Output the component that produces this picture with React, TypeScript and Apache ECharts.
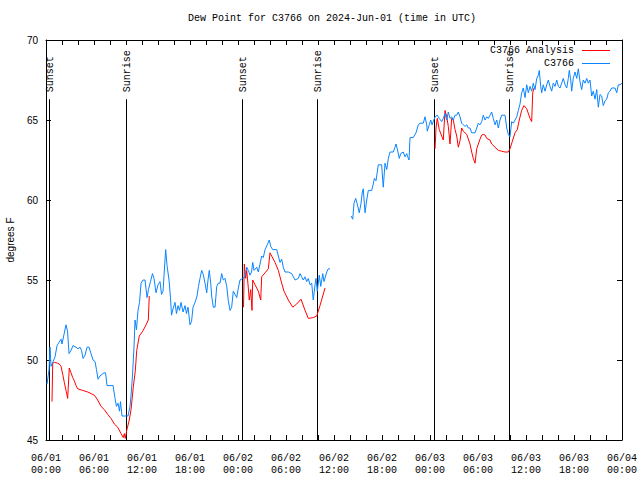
import React, { useEffect, useRef } from "react";
import * as echarts from "echarts";

const chartTitle = "Dew Point for C3766 on 2024-Jun-01 (time in UTC)";
const yAxisTitle = "degrees F";
const analysisName = "C3766 Analysis";
const obsName = "C3766";

const xTickLabels = [
  "06/01\n00:00", "06/01\n06:00", "06/01\n12:00", "06/01\n18:00",
  "06/02\n00:00", "06/02\n06:00", "06/02\n12:00", "06/02\n18:00",
  "06/03\n00:00", "06/03\n06:00", "06/03\n12:00", "06/03\n18:00",
  "06/04\n00:00",
];

// hours since 2024-06-01 00:00 UTC
const obsHours = [
  0.13, 0.38, 0.5, 0.63, 0.88, 1.13, 1.38, 1.63, 1.88, 2.0, 2.25, 2.5, 2.69, 2.88, 3.13, 3.38, 3.75, 4.0, 4.25, 4.44,
  4.63, 4.88, 5.13, 5.38, 5.63, 5.88, 6.13, 6.31, 6.5, 6.75, 7.0, 7.25, 7.44, 7.63, 8.0, 8.38, 8.63, 8.81, 9.0, 9.19,
  9.31, 9.5, 9.88, 10.25, 10.5, 10.63, 10.81, 11.0, 11.13, 11.31, 11.5, 11.69, 11.88, 12.13, 12.38, 12.63, 12.81, 13.06, 13.31, 13.5,
  13.75, 14.0, 14.25, 14.44, 14.63, 14.88, 14.96, 15.13, 15.38, 15.56, 15.69, 15.88, 16.13, 16.31, 16.5, 16.69, 16.88, 17.13, 17.38, 17.56,
  17.75, 18.0, 18.19, 18.38, 18.63, 18.88, 19.06, 19.25, 19.46, 19.63, 19.88, 20.09, 20.25, 20.41, 20.59, 20.71, 20.91, 21.13, 21.34, 21.54,
  21.75, 21.96, 22.16, 22.38, 22.59, 22.79, 23.0, 23.21, 23.41, 23.63, 23.84, 24.04, 24.25, 24.56, 24.88, 25.09, 25.29, 25.5, 25.69, 25.84,
  26.0, 26.34, 26.54, 26.75, 26.96, 27.16, 27.38, 27.66, 27.91, 28.09, 28.34, 28.84, 29.04, 29.25, 29.46, 29.66, 29.88, 30.29, 30.71, 31.13,
  31.54, 31.75, 31.96, 32.16, 32.38, 32.59, 32.79, 33.0, 33.21, 33.41, 33.63, 33.75, 33.91, 34.16, 34.34, 34.59, 34.75, 35.09, 35.29, 35.5,
  36.8,
  38.13, 38.34, 38.5, 38.71, 38.88, 39.16, 39.38, 39.54, 39.66, 39.88, 40.09, 40.29, 40.71, 40.91, 41.04, 41.25, 41.54, 41.96, 42.09, 42.16,
  42.38, 42.59, 42.79, 43.0, 43.41, 43.63, 43.75, 43.91, 44.16, 44.34, 44.66, 44.88, 45.09, 45.21, 45.38, 45.5, 45.91, 46.25, 46.54, 46.75,
  47.16, 47.38, 47.59, 47.66, 47.91, 48.09, 48.25, 48.41, 48.63, 48.91, 49.16, 49.46, 49.66, 49.88, 50.09, 50.29, 50.5, 50.71, 50.91, 51.13,
  51.34, 51.54, 51.75, 51.96, 52.16, 52.38, 52.59, 52.79, 53.0, 53.21, 53.63, 53.84, 54.04, 54.25, 54.46, 54.66, 54.88, 55.09, 55.29, 55.5,
  55.71, 55.91, 56.13, 56.34, 56.54, 56.75, 56.96, 57.38, 57.59, 57.79, 58.0, 58.21, 58.41, 58.63, 58.84, 59.04, 59.25, 59.46, 59.66, 59.88,
  60.09, 60.29, 60.5, 60.71, 60.91, 61.13, 61.34, 61.54, 61.66, 61.84, 61.96, 62.16, 62.38, 62.59, 62.79, 63.0, 63.21, 63.41, 63.63, 63.84,
  64.04, 64.25, 64.46, 64.66, 64.88, 65.09, 65.29, 65.41, 65.59, 65.71, 65.91, 66.13, 66.34, 66.54, 66.75, 66.96, 67.16, 67.38, 67.59, 67.79,
  68.0, 68.21, 68.41, 68.63, 68.84, 69.04, 69.25, 69.46, 69.66, 69.88, 70.09, 70.29, 70.5, 70.71, 71.13, 71.34, 71.54, 71.75, 72.0,
];
const obsValues = [
  48.5, 49.4, 50.8, 49.6, 49.9, 50.2, 50.9, 51.1, 51.3, 51.0, 51.6, 52.2, 51.8, 50.4, 50.6, 50.9, 50.8, 50.7, 50.8, 50.6,
  50.1, 50.3, 50.8, 50.8, 50.4, 50.0, 49.9, 49.4, 48.8, 49.0, 49.1, 49.2, 49.2, 48.4, 48.4, 48.4, 47.6, 47.1, 47.3, 46.8,
  47.4, 46.5, 46.5, 46.5, 47.1, 47.8, 49.0, 50.8, 52.5, 51.9, 53.1, 53.6, 54.8, 55.0, 55.0, 53.9, 54.4, 54.9, 55.4, 55.1,
  54.2, 54.7, 54.9, 54.1, 54.3, 56.3, 56.9, 55.9, 55.0, 53.9, 52.8, 53.2, 53.6, 52.9, 53.4, 53.1, 53.6, 53.0, 53.4, 52.9,
  53.3, 52.2, 52.4, 53.3, 53.6, 54.0, 54.6, 55.1, 55.6, 55.4, 54.8, 54.2, 55.0, 55.6, 54.8, 54.0, 53.3, 53.3, 54.6, 54.8,
  54.8, 55.4, 55.0, 55.1, 54.6, 53.7, 53.1, 53.3, 54.3, 54.1, 53.9, 54.5, 55.0, 55.1, 55.2, 55.8, 55.6, 55.3, 55.5, 56.1,
  55.6, 55.8, 55.5, 56.0, 56.5, 56.4, 56.9, 57.2, 57.5, 57.1, 56.9, 56.9, 56.5, 56.1, 56.3, 55.8, 55.5, 55.5, 55.4, 55.0,
  55.1, 55.4, 55.2, 55.0, 55.2, 54.9, 55.1, 54.7, 54.8, 53.75, 54.7, 55.1, 54.3, 55.3, 54.6, 55.4, 54.9, 55.5, 55.7, 55.7,
  null,
  59.0, 58.8, 59.8, 60.1, 59.8, 59.2, 59.8, 60.5, 60.7, 59.2, 60.0, 60.6, 60.6, 61.0, 61.35, 61.2, 62.2, 62.2, 61.2, 60.8,
  62.3, 61.9, 62.6, 63.0, 63.0, 63.3, 63.5, 63.2, 62.6, 62.9, 63.0, 62.7, 62.9, 62.7, 62.5, 63.9, 63.9, 64.2, 64.7, 64.8,
  64.8, 65.2, 64.7, 64.3, 64.7, 65.0, 64.7, 64.9, 65.2, 65.3, 65.1, 64.9, 65.1, 65.4, 65.0, 65.5, 65.1, 65.2, 65.0, 65.3,
  65.3, 65.5, 65.2, 64.8, 64.7, 64.6, 64.7, 64.5, 64.5, 64.2, 64.2, 64.5, 64.8, 64.7, 64.9, 65.3, 65.0, 65.2, 65.1, 65.3,
  65.5, 65.1, 64.7, 65.0, 64.5, 65.0, 65.3, 65.3, 64.5, 64.1, 63.95, 64.9, 64.8, 65.0, 65.2, 65.6, 66.0, 66.7, 67.0, 66.4,
  67.2, 66.7, 67.1, 66.8, 67.3, 66.9, 67.6, 67.8, 68.1, 67.1, 66.7, 67.2, 66.8, 67.2, 67.5, 67.1, 66.8, 67.3, 67.1, 67.5,
  67.1, 67.0, 67.3, 67.6, 67.2, 67.0, 67.6, 68.1, 67.5, 66.8, 67.6, 68.0, 67.6, 68.2, 67.4, 66.9, 67.5, 67.3, 67.6, 67.3,
  67.5, 66.5, 66.8, 66.3, 66.9, 65.8, 66.6, 66.5, 65.9, 66.2, 66.3, 66.7, 66.8, 67.0, 67.0, 66.7, 67.2, 67.2, 67.3,
];

const anaHours = [
  0.75, 0.84, 1.06, 1.46, 1.66, 1.88, 2.09, 2.29, 2.5, 2.71, 2.91, 3.13, 3.34, 3.54, 3.75, 3.96, 4.59, 5.21, 5.63, 6.04,
  6.46, 6.88, 7.29, 7.71, 8.13, 8.54, 8.96, 9.38, 9.66, 9.79, 9.91, 10.09, 10.41, 10.63, 10.91, 11.16, 11.34, 11.66, 12.09, 12.41,
  12.79, 12.91,
  18.0,
  24.69, 24.79, 24.96, 25.09, 25.29, 25.41, 25.59, 25.75, 25.84, 26.13, 26.54, 26.84, 26.96, 27.38, 27.79, 28.0, 28.21, 28.63, 29.04, 29.46,
  29.75, 30.29, 30.84, 31.34, 31.88, 32.38, 32.79, 33.41, 33.84, 34.25, 34.59, 34.88,
  42.0,
  48.63, 48.75, 48.91, 49.16, 49.46, 49.66, 49.88, 50.09, 50.29, 50.5, 50.71, 50.91, 51.13, 51.34, 51.54, 51.75, 51.96, 52.16, 52.59, 53.0,
  53.21, 53.41, 53.63, 53.84, 54.04, 54.25, 54.46, 54.66, 54.88, 55.09, 55.5, 55.71, 56.13, 56.54, 56.96, 57.38, 57.79, 58.0, 58.34, 58.63,
  58.91, 59.16, 59.46, 59.75, 60.09, 60.5, 60.71, 60.84, 61.0,
];
const anaValues = [
  47.4, 49.8, 49.85, 49.8, 49.75, 49.6, 49.1, 48.6, 48.1, 47.6, 49.5, 49.2, 48.9, 48.7, 48.4, 48.2, 48.1, 48.0, 47.9, 47.8,
  47.5, 47.1, 46.9, 46.6, 46.35, 46.0, 45.8, 45.4, 45.15, 45.4, 45.1, 45.6, 46.25, 46.9, 48.3, 49.3, 50.6, 51.5, 51.8, 52.1,
  52.5, 54.0,
  null,
  53.3, 56.0, 55.1, 55.6, 54.5, 53.75, 54.4, 53.1, 55.0, 54.7, 54.3, 53.75, 55.2, 55.45, 55.7, 56.7, 56.5, 56.1, 55.6, 54.8,
  54.3, 53.75, 53.3, 53.5, 53.8, 53.1, 52.6, 52.65, 52.75, 53.4, 54.0, 54.5,
  null,
  63.2, 64.5, 65.1, 64.4, 64.0, 63.75, 65.6, 65.2, 64.6, 63.5, 65.1, 65.0, 64.4, 64.0, 63.3, 63.7, 64.5, 64.3, 64.1, 63.5,
  63.0, 62.6, 62.3, 63.2, 63.5, 63.8, 64.06, 64.1, 64.06, 63.85, 63.75, 63.5, 63.3, 63.1, 63.05, 63.0, 63.0, 63.2, 63.75, 64.2,
  64.4, 65.0, 65.6, 65.9, 65.7, 65.1, 64.9, 66.7, 67.0,
];

const sunHours = [0.43, 9.95, 24.45, 33.9, 48.45, 57.85];
const sunLabels = ["Sunset", "Sunrise", "Sunset", "Sunrise", "Sunset", "Sunrise"];
const sunLineTop = 66.3;

const MONO = '"Liberation Mono", "DejaVu Sans Mono", monospace';
const SANS = '"Liberation Sans", Arial, sans-serif';

export default function App() {
  const ref = useRef<HTMLDivElement>(null);

  useEffect(() => {
    if (!ref.current) return;
    const chart = echarts.init(ref.current, null, { renderer: "svg" });

    const toData = (hs: number[], vs: (number | null)[]) =>
      hs.map((h, i) => [h, vs[i] === null ? "-" : vs[i]]);

    const xCommon = {
      type: "value",
      min: 0,
      max: 72,
      interval: 6,
      splitLine: { show: false },
      axisLine: { show: true, onZero: false, lineStyle: { color: "#000", width: 1 } },
      axisTick: { show: true, inside: true, length: 5, lineStyle: { color: "#000", width: 1 } },
      minorTick: { show: true, splitNumber: 3, length: 5, lineStyle: { color: "#000", width: 1 } },
    };
    const yCommon = {
      type: "value",
      min: 45,
      max: 70,
      interval: 5,
      splitLine: { show: false },
      axisLine: { show: true, onZero: false, lineStyle: { color: "#000", width: 1 } },
      axisTick: { show: true, inside: true, length: 5, lineStyle: { color: "#000", width: 1 } },
    };

    chart.setOption({
      animation: false,
      backgroundColor: "#fff",
      title: {
        text: chartTitle,
        left: 188,
        top: 13,
        padding: 0,
        textStyle: { fontFamily: MONO, fontSize: 10, fontWeight: "normal", color: "#000" },
      },
      grid: {
        left: 46,
        right: 18,
        top: 40,
        bottom: 40,
        containLabel: false,
        outerBoundsMode: "none",
      },
      xAxis: [
        {
          ...xCommon,
          position: "bottom",
          axisLabel: {
            show: true,
            margin: 12,
            fontFamily: MONO,
            fontSize: 10,
            lineHeight: 12,
            color: "#000",
            hideOverlap: false,
            formatter: (v: number) => xTickLabels[Math.round(v / 6)] ?? "",
          },
        },
        { ...xCommon, position: "top", axisLabel: { show: false } },
      ],
      yAxis: [
        {
          ...yCommon,
          position: "left",
          name: yAxisTitle,
          nameLocation: "middle",
          nameRotate: 90,
          nameGap: 29,
          nameTextStyle: { fontFamily: SANS, fontSize: 10, color: "#000" },
          axisLabel: { show: true, margin: 8, fontFamily: SANS, fontSize: 10, color: "#000" },
        },
        { ...yCommon, position: "right", axisLabel: { show: false } },
      ],
      series: [
        {
          type: "custom",
          name: "sun",
          xAxisIndex: 0,
          yAxisIndex: 0,
          silent: true,
          data: sunHours.map((h) => [h, 45]),
          encode: { x: 0, y: 1 },
          renderItem: (params: any, api: any) => {
            const t = api.value(0);
            const bottom = api.coord([t, 45]);
            const top = api.coord([t, sunLineTop]);
            const lx = Math.round(bottom[0]) + 0.5;
            return {
              type: "group",
              children: [
                {
                  type: "line",
                  shape: { x1: lx, y1: bottom[1], x2: lx, y2: top[1] },
                  style: { stroke: "#000", lineWidth: 1 },
                },
                {
                  type: "text",
                  x: lx + 1,
                  y: top[1] - 7,
                  rotation: Math.PI / 2,
                  style: {
                    text: sunLabels[params.dataIndex],
                    textAlign: "left",
                    textVerticalAlign: "middle",
                    font: `10px ${MONO}`,
                    fill: "#000",
                  },
                },
              ],
            };
          },
        },
        {
          type: "line",
          name: analysisName,
          xAxisIndex: 0,
          yAxisIndex: 0,
          data: toData(anaHours, anaValues),
          symbol: "none",
          connectNulls: false,
          lineStyle: { color: "#ff0000", width: 1 },
          itemStyle: { color: "#ff0000" },
        },
        {
          type: "line",
          name: obsName,
          xAxisIndex: 0,
          yAxisIndex: 0,
          data: toData(obsHours, obsValues),
          symbol: "none",
          connectNulls: false,
          lineStyle: { color: "#0a84ff", width: 1 },
          itemStyle: { color: "#0a84ff" },
        },
      ],
      graphic: [
        {
          type: "text",
          x: 574,
          y: 50,
          style: { text: analysisName, textAlign: "right", textVerticalAlign: "middle", font: `10px ${MONO}`, fill: "#000" },
        },
        { type: "line", shape: { x1: 582, y1: 50.5, x2: 610, y2: 50.5 }, style: { stroke: "#ff0000", lineWidth: 1 } },
        {
          type: "text",
          x: 574,
          y: 63,
          style: { text: obsName, textAlign: "right", textVerticalAlign: "middle", font: `10px ${MONO}`, fill: "#000" },
        },
        { type: "line", shape: { x1: 582, y1: 63.5, x2: 610, y2: 63.5 }, style: { stroke: "#0a84ff", lineWidth: 1 } },
      ],
    });

    return () => chart.dispose();
  }, []);

  return (
    <div
      ref={ref}
      style={{ position: "fixed", left: 0, top: 0, width: 640, height: 480, background: "#fff" }}
    />
  );
}
